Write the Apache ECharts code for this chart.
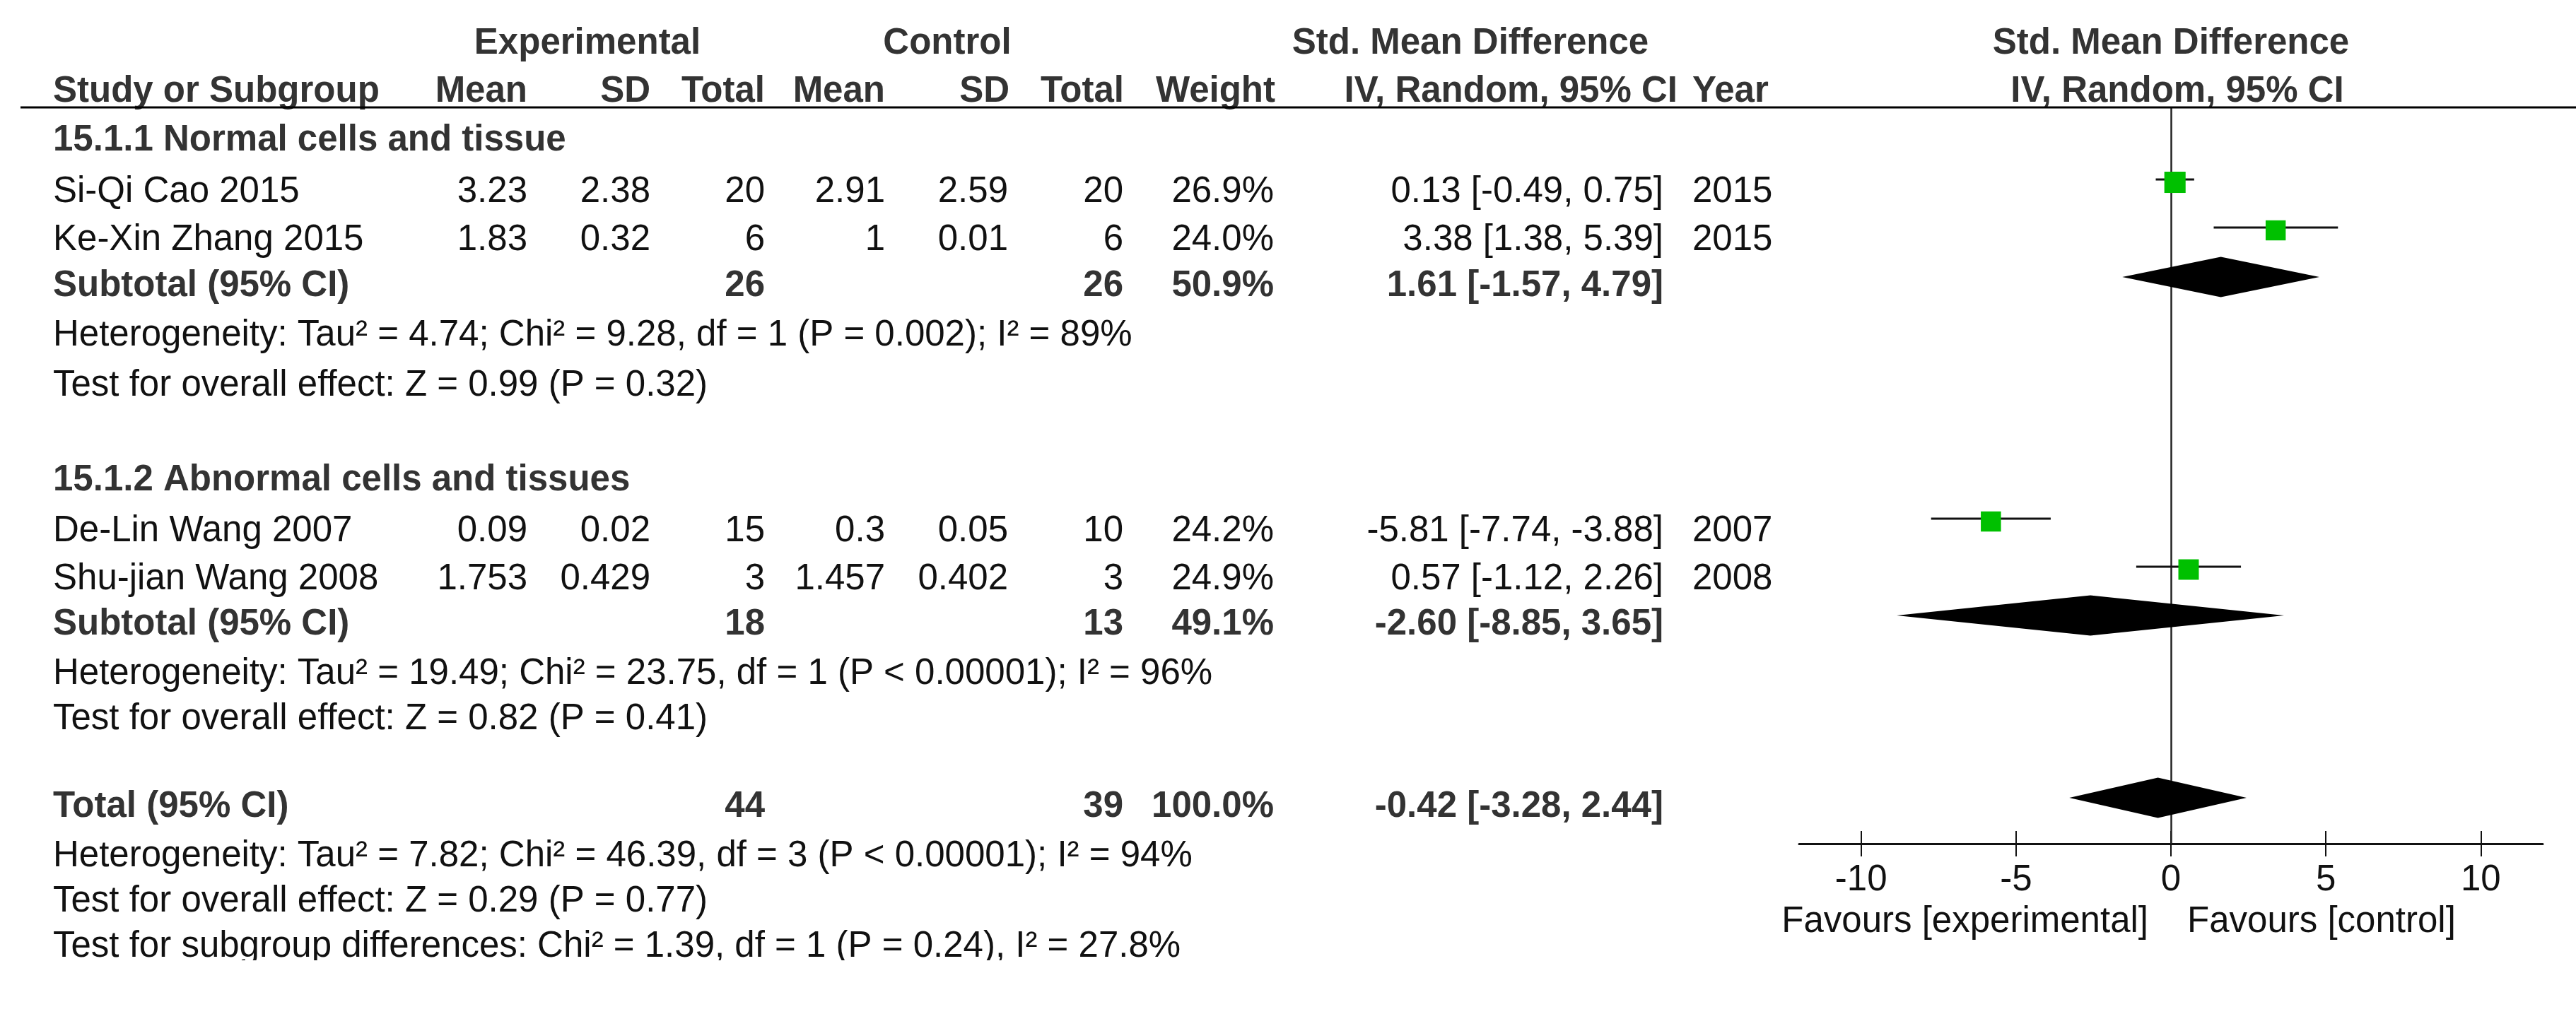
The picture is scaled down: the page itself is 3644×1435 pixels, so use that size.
<!DOCTYPE html>
<html>
<head>
<meta charset="utf-8">
<title>Forest plot</title>
<script src="https://cdn.jsdelivr.net/npm/echarts@6/dist/echarts.min.js"></script>
<style>
  html, body { margin: 0; padding: 0; background: #ffffff; }
  #chart { width: 3644px; height: 1435px; }
</style>
</head>
<body>
<div id="chart"></div>
<script>
// ---------------- DATA ----------------
const groupNames = ['15.1.1 Normal cells and tissue', '15.1.2 Abnormal cells and tissues'];
const studies = ['Si-Qi Cao 2015', 'Ke-Xin Zhang 2015', 'De-Lin Wang 2007', 'Shu-jian Wang 2008'];
const studyGroup = [0, 0, 1, 1];
const expMean = [3.23, 1.83, 0.09, 1.753];
const expSD = [2.38, 0.32, 0.02, 0.429];
const expTotal = [20, 6, 15, 3];
const ctlMean = [2.91, 1, 0.3, 1.457];
const ctlSD = [2.59, 0.01, 0.05, 0.402];
const ctlTotal = [20, 6, 10, 3];
const weight = [26.9, 24.0, 24.2, 24.9];
const smd = [0.13, 3.38, -5.81, 0.57];
const smdLow = [-0.49, 1.38, -7.74, -1.12];
const smdHigh = [0.75, 5.39, -3.88, 2.26];
const years = [2015, 2015, 2007, 2008];

const subExpTotal = [26, 18];
const subCtlTotal = [26, 13];
const subWeight = [50.9, 49.1];
const subSmd = [1.61, -2.60];
const subLow = [-1.57, -8.85];
const subHigh = [4.79, 3.65];
const subHet = [
  'Heterogeneity: Tau\u00b2 = 4.74; Chi\u00b2 = 9.28, df = 1 (P = 0.002); I\u00b2 = 89%',
  'Heterogeneity: Tau\u00b2 = 19.49; Chi\u00b2 = 23.75, df = 1 (P < 0.00001); I\u00b2 = 96%'
];
const subTest = [
  'Test for overall effect: Z = 0.99 (P = 0.32)',
  'Test for overall effect: Z = 0.82 (P = 0.41)'
];

const totExpTotal = 44;
const totCtlTotal = 39;
const totWeight = 100.0;
const totSmd = -0.42;
const totLow = -3.28;
const totHigh = 2.44;
const totHet = 'Heterogeneity: Tau\u00b2 = 7.82; Chi\u00b2 = 46.39, df = 3 (P < 0.00001); I\u00b2 = 94%';
const totTest = 'Test for overall effect: Z = 0.29 (P = 0.77)';
const subgroupTest = 'Test for subgroup differences: Chi\u00b2 = 1.39, df = 1 (P = 0.24), I\u00b2 = 27.8%';

const xTicks = [-10, -5, 0, 5, 10];
const xMin = -12, xMax = 12;
const favLeft = 'Favours [experimental]';
const favRight = 'Favours [control]';

// ---------------- LAYOUT ----------------
const FONT = '"Liberation Sans", Arial, Helvetica, sans-serif';
const FS = 51;
const W = 3644, H = 1435;
const RULE_Y = 152, AXIS_Y = 1194;
const HEAD1_Y = 62, HEAD2_Y = 130;
// vertical centres of table rows (below the header rule)
const ROW_Y = [199, 272, 340, 405, 475, 546, 680, 752, 820, 884, 954, 1018, 1142, 1212, 1276, 1340];
const STUDY_MARK_OFFSET = 18, DIAMOND_OFFSET = 13;
const COL = { study: 75, expMean: 746, expSD: 920, expTot: 1082, ctlMean: 1252, ctlSD: 1426,
              ctlTot: 1589, weight: 1802, ci: 2353, ciHead: 2373, year: 2394 };

function T(x, y, s, align, bold, extra) {
  return Object.assign({
    type: 'text', x: x, y: y, z: 10, silent: true,
    style: {
      text: String(s), fontSize: FS, fontFamily: FONT,
      fontWeight: bold ? 'bold' : 'normal',
      fill: bold ? '#333333' : '#111111',
      align: align, verticalAlign: 'middle'
    }
  }, extra || {});
}
const f2 = v => v.toFixed(2);
const ciText = (e, l, h) => f2(e) + ' [' + f2(l) + ', ' + f2(h) + ']';
const pct = v => v.toFixed(1) + '%';

// row assignment
let rowIdx = 0;
const texts = [];
const studyData = [];
const diamondData = [];

for (let g = 0; g < groupNames.length; g++) {
  texts.push(T(COL.study, ROW_Y[rowIdx], groupNames[g], 'left', true));
  rowIdx++;
  for (let i = 0; i < studies.length; i++) {
    if (studyGroup[i] !== g) continue;
    const y = ROW_Y[rowIdx];
    texts.push(T(COL.study, y, studies[i], 'left', false));
    texts.push(T(COL.expMean, y, expMean[i], 'right', false));
    texts.push(T(COL.expSD, y, expSD[i], 'right', false));
    texts.push(T(COL.expTot, y, expTotal[i], 'right', false));
    texts.push(T(COL.ctlMean, y, ctlMean[i], 'right', false));
    texts.push(T(COL.ctlSD, y, ctlSD[i], 'right', false));
    texts.push(T(COL.ctlTot, y, ctlTotal[i], 'right', false));
    texts.push(T(COL.weight, y, pct(weight[i]), 'right', false));
    texts.push(T(COL.ci, y, ciText(smd[i], smdLow[i], smdHigh[i]), 'right', false));
    texts.push(T(COL.year, y, years[i], 'left', false));
    studyData.push([smd[i], smdLow[i], smdHigh[i], y - STUDY_MARK_OFFSET, weight[i]]);
    rowIdx++;
  }
  const ys = ROW_Y[rowIdx];
  texts.push(T(COL.study, ys, 'Subtotal (95% CI)', 'left', true));
  texts.push(T(COL.expTot, ys, subExpTotal[g], 'right', true));
  texts.push(T(COL.ctlTot, ys, subCtlTotal[g], 'right', true));
  texts.push(T(COL.weight, ys, pct(subWeight[g]), 'right', true));
  texts.push(T(COL.ci, ys, ciText(subSmd[g], subLow[g], subHigh[g]), 'right', true));
  diamondData.push([subSmd[g], subLow[g], subHigh[g], ys - DIAMOND_OFFSET]);
  rowIdx++;
  texts.push(T(COL.study, ROW_Y[rowIdx], subHet[g], 'left', false)); rowIdx++;
  texts.push(T(COL.study, ROW_Y[rowIdx], subTest[g], 'left', false)); rowIdx++;
}
{
  const y = ROW_Y[rowIdx];
  texts.push(T(COL.study, y, 'Total (95% CI)', 'left', true));
  texts.push(T(COL.expTot, y, totExpTotal, 'right', true));
  texts.push(T(COL.ctlTot, y, totCtlTotal, 'right', true));
  texts.push(T(COL.weight, y, pct(totWeight), 'right', true));
  texts.push(T(COL.ci, y, ciText(totSmd, totLow, totHigh), 'right', true));
  diamondData.push([totSmd, totLow, totHigh, y - DIAMOND_OFFSET]);
  rowIdx++;
  texts.push(T(COL.study, ROW_Y[rowIdx], totHet, 'left', false)); rowIdx++;
  texts.push(T(COL.study, ROW_Y[rowIdx], totTest, 'left', false)); rowIdx++;
  texts.push(T(COL.study, ROW_Y[rowIdx], subgroupTest, 'left', false)); rowIdx++;
}

// headers
texts.push(T(831, HEAD1_Y, 'Experimental', 'center', true));
texts.push(T(1340, HEAD1_Y, 'Control', 'center', true));
texts.push(T(2080, HEAD1_Y, 'Std. Mean Difference', 'center', true));
texts.push(T(COL.study, HEAD2_Y, 'Study or Subgroup', 'left', true));
texts.push(T(COL.expMean, HEAD2_Y, 'Mean', 'right', true));
texts.push(T(COL.expSD, HEAD2_Y, 'SD', 'right', true));
texts.push(T(COL.expTot, HEAD2_Y, 'Total', 'right', true));
texts.push(T(COL.ctlMean, HEAD2_Y, 'Mean', 'right', true));
texts.push(T(COL.ctlSD + 2, HEAD2_Y, 'SD', 'right', true));
texts.push(T(COL.ctlTot + 1, HEAD2_Y, 'Total', 'right', true));
texts.push(T(COL.weight + 2, HEAD2_Y, 'Weight', 'right', true));
texts.push(T(COL.ciHead, HEAD2_Y, 'IV, Random, 95% CI', 'right', true));
texts.push(T(COL.year, HEAD2_Y, 'Year', 'left', true));

// ---------------- CHART ----------------
const chart = echarts.init(document.getElementById('chart'), null, { renderer: 'canvas' });

const gridLeft = 2545, gridRight = 47;

const option = {
  backgroundColor: '#ffffff',
  animation: false,
  grid: { left: gridLeft, right: gridRight, top: RULE_Y, bottom: H - AXIS_Y },
  xAxis: [
    {
      type: 'value', min: xMin, max: xMax, position: 'bottom',
      axisLine: { show: true, onZero: false, lineStyle: { color: '#111', width: 3 } },
      axisTick: { show: true, inside: false, length: 18, customValues: xTicks,
                  lineStyle: { color: '#111', width: 2 } },
      axisLabel: { show: true, customValues: xTicks, margin: 26, fontSize: FS,
                   fontFamily: FONT, color: '#111' },
      splitLine: { show: false }
    },
    {
      type: 'value', min: xMin, max: xMax, position: 'bottom',
      axisLine: { show: false, onZero: false },
      axisTick: { show: true, inside: true, length: 18, customValues: xTicks,
                  lineStyle: { color: '#111', width: 2 } },
      axisLabel: { show: false },
      splitLine: { show: false }
    }
  ],
  yAxis: { type: 'value', min: RULE_Y, max: AXIS_Y, inverse: true, show: false },
  series: [
    {
      type: 'scatter', data: [], z: 1, silent: true,
      markLine: {
        silent: true, symbol: 'none', animation: false,
        label: { show: false },
        lineStyle: { color: '#222', width: 2.5, type: 'solid' },
        data: [{ xAxis: 0 }]
      }
    },
    {
      type: 'custom', name: 'studies', z: 5, silent: true,
      encode: { x: [0, 1, 2], y: 3 },
      data: studyData,
      renderItem: function (params, api) {
        const e = api.value(0), lo = api.value(1), hi = api.value(2), y = api.value(3), w = api.value(4);
        const pL = api.coord([lo, y]), pH = api.coord([hi, y]), pE = api.coord([e, y]);
        const s = 29 * Math.sqrt(w / 25);
        return {
          type: 'group',
          children: [
            { type: 'line', shape: { x1: pL[0], y1: pL[1], x2: pH[0], y2: pH[1] },
              style: { stroke: '#111', lineWidth: 3 } },
            { type: 'rect', shape: { x: pE[0] - s / 2, y: pE[1] + 4 - s / 2, width: s, height: s },
              style: { fill: '#00c000' } }
          ]
        };
      }
    },
    {
      type: 'custom', name: 'diamonds', z: 5, silent: true,
      encode: { x: [0, 1, 2], y: 3 },
      data: diamondData,
      renderItem: function (params, api) {
        const e = api.value(0), lo = api.value(1), hi = api.value(2), y = api.value(3);
        const pL = api.coord([lo, y]), pH = api.coord([hi, y]), pE = api.coord([e, y]);
        const h = 28.5;
        return {
          type: 'polygon',
          shape: { points: [[pL[0], pL[1]], [pE[0], pE[1] - h], [pH[0], pH[1]], [pE[0], pE[1] + h]] },
          style: { fill: '#000' }
        };
      }
    }
  ]
};
chart.setOption(option);

const zeroX = chart.convertToPixel({ xAxisIndex: 0 }, 0);
texts.push(T(zeroX, HEAD1_Y, 'Std. Mean Difference', 'center', true));
texts.push(T(zeroX + 9, HEAD2_Y, 'IV, Random, 95% CI', 'center', true));
texts.push(T(zeroX - 32, 1305, favLeft, 'right', false));
texts.push(T(zeroX + 23, 1305, favRight, 'left', false));

const graphics = texts.concat([
  { type: 'line', z: 20, silent: true,
    shape: { x1: 29, y1: RULE_Y, x2: W, y2: RULE_Y },
    style: { stroke: '#000', lineWidth: 3 } },
  // the reference picture is cropped just below the last text line
  { type: 'rect', z: 30, silent: true,
    shape: { x: 0, y: 1359, width: 1800, height: H - 1359 },
    style: { fill: '#ffffff' } }
]);
chart.setOption({ graphic: graphics });
</script>
</body>
</html>
